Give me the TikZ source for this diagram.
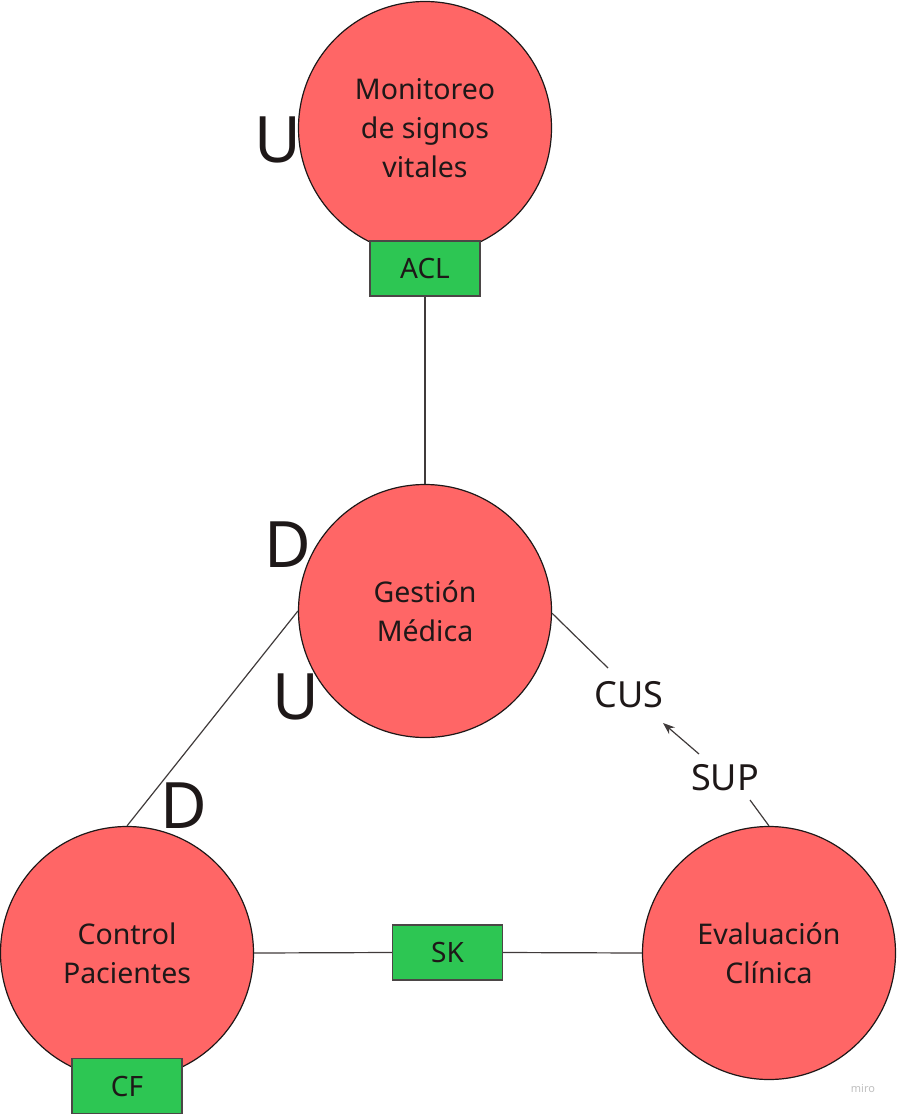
\documentclass[tikz,border=0pt]{standalone}
\usepackage{fontspec}
\setmainfont{Noto Sans}
\usepackage{tikz}
\usetikzlibrary{arrows.meta}

\definecolor{circfill}{RGB}{255,102,102}
\definecolor{boxfill}{RGB}{45,198,83}
\definecolor{ink}{RGB}{30,24,24}

\tikzset{
    ctx/.style={circle, draw=ink, line width=1.2pt, fill=circfill, minimum size=253pt, inner sep=0pt,
        align=center, text=ink, font=\fontsize{28.5}{39}\selectfont},
    patbox/.style={rectangle, draw=ink!80, line width=1.2pt, fill=boxfill, minimum width=110pt,
        minimum height=55pt, inner sep=0pt, text=ink, font=\fontsize{28}{30}\selectfont},
    rel/.style={line width=1.2pt, draw=ink!85},
    role/.style={text=ink, inner sep=0pt, font=\fontsize{36}{40}\selectfont},
    updown/.style={text=ink, inner sep=0pt, font=\fontsize{64}{70}\selectfont}
}

\begin{document}
\begin{tikzpicture}[x=1pt, y=-1pt]
    \useasboundingbox (0,0) rectangle (897,1114);

    % Contextos
    \node[ctx] (mon) at (425,128) {Monitoreo\\de signos\\vitales};
    \node[ctx] (gest) at (425,611) {Gestión\\Médica};
    \node[ctx] (ctrl) at (127,953) {Control\\Pacientes};
    \node[ctx] (eval) at (769,953) {Evaluación\\Clínica};

    % Patrones
    \node[patbox] (acl) at (425,268.5) {ACL};
    \node[patbox] (cf) at (127,1086) {CF};
    \node[patbox] (sk) at (447.5,952.5) {SK};

    % Relaciones
    \draw[rel] (acl.south) -- (gest.north);
    \draw[rel] (ctrl.north) -- (gest.west); % D-U
    \draw[rel] (ctrl.east) -- (sk.west);
    \draw[rel] (sk.east) -- (eval.west);

    % Cliente - proveedor
    \node[role] (cus) at (629,695) {CUS};
    \node[role] (sup) at (725,778) {SUP};
    \coordinate (cusend) at (608,668);
    \coordinate (supend) at (750,800);
    \coordinate (arrfrom) at (699,754);
    \coordinate (arrto) at (663,723);
    \draw[rel] (gest.-1) -- (cusend);
    \draw[rel] (supend) -- (eval.north);
    \draw[rel, -{Stealth[length=12pt, width=9pt]}] (arrfrom) -- (arrto);

    % Etiquetas U / D
    \node[updown] (u1) at (278,140) {U};
    \node[updown] (d1) at (288,545) {D};
    \node[updown] (u2) at (296,697) {U};
    \node[updown] (d2) at (184,806) {D};

    % Marca
    \node[text=black!25, font=\fontsize{11}{12}\selectfont] (miro) at (863,1088) {miro};
\end{tikzpicture}
\end{document}
